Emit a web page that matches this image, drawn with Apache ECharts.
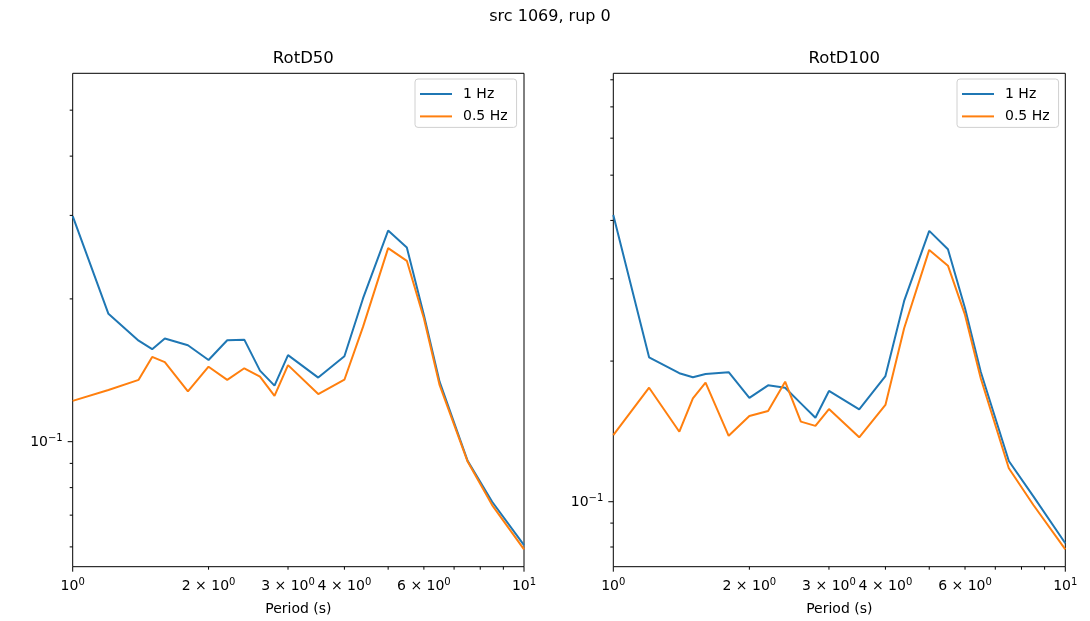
<!DOCTYPE html>
<html><head><meta charset="utf-8">
<script src="https://cdn.jsdelivr.net/npm/echarts@6/dist/echarts.min.js"></script>
<style>html,body{margin:0;padding:0;background:#fff}#c{width:1090px;height:621px}</style>
</head><body><div id="c"></div>
<script>
// ---- data ----
const periods = [1, 1.2, 1.4, 1.5, 1.6, 1.8, 2, 2.2, 2.4, 2.6, 2.8, 3, 3.5, 4, 4.4, 5, 5.5, 6, 6.5, 7.5, 8.5, 10];
const rotd50_1hz  = [0.299, 0.186, 0.1633, 0.1567, 0.165, 0.1597, 0.1487, 0.1636, 0.1641, 0.1412, 0.1313, 0.1522, 0.1365, 0.1514, 0.2007, 0.2787, 0.2567, 0.185, 0.1338, 0.0911, 0.0747, 0.0605];
const rotd50_05hz = [0.1219, 0.1285, 0.135, 0.1509, 0.1471, 0.1277, 0.1439, 0.135, 0.1428, 0.1371, 0.1249, 0.145, 0.126, 0.1351, 0.1748, 0.2559, 0.2406, 0.182, 0.1317, 0.0908, 0.0735, 0.0593];
const rotd100_1hz  = [0.411, 0.2038, 0.1884, 0.1847, 0.1877, 0.1893, 0.1668, 0.1775, 0.1754, 0.1624, 0.1513, 0.1726, 0.1577, 0.1858, 0.269, 0.38, 0.3471, 0.2595, 0.1898, 0.1222, 0.1027, 0.0815];
const rotd100_05hz = [0.1389, 0.1754, 0.1412, 0.1665, 0.1798, 0.1384, 0.1526, 0.1564, 0.1807, 0.1484, 0.1453, 0.1579, 0.1374, 0.1611, 0.2351, 0.3459, 0.3201, 0.2511, 0.1838, 0.1179, 0.0984, 0.0791];
const seriesNames = ['1 Hz', '0.5 Hz'];
const panelTitles = ['RotD50', 'RotD100'];
const suptitle = 'src 1069, rup 0';
const xLabel = 'Period (s)';
const xLimits = [1, 10];
const yLimits50 = [0.0545, 0.598];
const yLimits100 = [0.0726, 0.826];
// tick values and labels (base text, superscript)
const xMajorTicks = [1, 10];
const xMajorLabels = [['10', '0'], ['10', '1']];
const xMinorTicks = [2, 3, 4, 5, 6, 7, 8, 9];
const xMinorLabels = [['2 × 10', '0'], ['3 × 10', '0'], ['4 × 10', '0'], null, ['6 × 10', '0'], null, null, null];
const yMajorTicks = [0.1];
const yMajorLabels = [['10', '−1']];
const yMinorTicks = [0.06, 0.07, 0.08, 0.09, 0.2, 0.3, 0.4, 0.5, 0.6, 0.7, 0.8, 0.9];

// ---- chart ----
const FONT = 'DejaVu Sans';
const C1 = '#1f77b4', C2 = '#ff7f0e';
const chart = echarts.init(document.getElementById('c'));
const grids = [
  {left: 72.7, top: 73.3, width: 451.3, height: 493.4},
  {left: 613.3, top: 73.3, width: 452, height: 493.4}
];
const yLims = [yLimits50, yLimits100];
function mkLine(name, data, color, idx) {
  return {
    name, type: 'line', xAxisIndex: idx, yAxisIndex: idx,
    data: periods.map((p, i) => [p, data[i]]),
    symbol: 'none', lineStyle: {width: 2, color}, itemStyle: {color},
    emphasis: {disabled: true}, z: 3
  };
}
function mkLegend(left) {
  return {
    left, top: 79, orient: 'vertical', icon: 'rect', itemWidth: 32, itemHeight: 2, itemGap: 8.4,
    padding: [8, 9, 4, 5], borderColor: '#d0d0d0', borderWidth: 1, borderRadius: 3,
    backgroundColor: 'rgba(255,255,255,0.8)', selectedMode: false,
    textStyle: {fontSize: 14, lineHeight: 14, fontFamily: FONT, color: '#000', padding: [0, 0, 0, 6]},
    data: seriesNames
  };
}
const option = {
  animation: false,
  backgroundColor: '#fff',
  title: [
    {text: suptitle, left: 545, top: 4, textAlign: 'center', textStyle: {fontSize: 16, fontWeight: 'normal', fontFamily: FONT, color: '#000'}},
    {text: panelTitles[0], left: grids[0].left + grids[0].width / 2, top: 45.5, textAlign: 'center', textStyle: {fontSize: 16.5, fontWeight: 'normal', fontFamily: FONT, color: '#000'}},
    {text: panelTitles[1], left: grids[1].left + grids[1].width / 2, top: 45.5, textAlign: 'center', textStyle: {fontSize: 16.5, fontWeight: 'normal', fontFamily: FONT, color: '#000'}}
  ],
  legend: [mkLegend(415), mkLegend(957)],
  grid: grids.map(g => Object.assign({show: true, borderColor: '#000', borderWidth: 1, containLabel: false}, g)),
  xAxis: [0, 1].map(i => ({
    type: 'log', gridIndex: i, min: xLimits[0], max: xLimits[1], logBase: 10,
    axisLine: {show: false}, axisTick: {show: false}, axisLabel: {show: false}, splitLine: {show: false}
  })),
  yAxis: [0, 1].map(i => ({
    type: 'log', gridIndex: i, min: yLims[i][0], max: yLims[i][1], logBase: 10,
    axisLine: {show: false}, axisTick: {show: false}, axisLabel: {show: false}, splitLine: {show: false}
  })),
  series: [
    mkLine(seriesNames[0], rotd50_1hz, C1, 0),
    mkLine(seriesNames[1], rotd50_05hz, C2, 0),
    mkLine(seriesNames[0], rotd100_1hz, C1, 1),
    mkLine(seriesNames[1], rotd100_05hz, C2, 1)
  ]
};
chart.setOption(option);

// ---- ticks & labels drawn from the axes' own scales ----
function richLabel(lbl, x, y, align, vAlign) {
  return {
    type: 'text', x, y, silent: true, z: 10,
    style: {
      text: '{b|' + lbl[0] + '}{s|' + lbl[1] + '}',
      align, verticalAlign: vAlign,
      rich: {
        b: {fontSize: 14, fontFamily: FONT, fill: '#000', lineHeight: 18},
        s: {fontSize: 10, fontFamily: FONT, fill: '#000', lineHeight: 10, verticalAlign: 'top'}
      }
    }
  };
}
const gfx = [];
[0, 1].forEach(i => {
  const g = grids[i];
  const bottom = g.top + g.height, left = g.left;
  const xPix = v => chart.convertToPixel({xAxisIndex: i}, v);
  const yPix = v => chart.convertToPixel({yAxisIndex: i}, v);
  const tick = (x1, y1, x2, y2) => gfx.push({type: 'line', silent: true, z: 10, shape: {x1, y1, x2, y2}, style: {stroke: '#000', lineWidth: 1}});
  xMajorTicks.forEach((v, k) => {
    const x = xPix(v);
    tick(x, bottom, x, bottom + 5);
    gfx.push(richLabel(xMajorLabels[k], x, bottom + 11, 'center', 'top'));
  });
  xMinorTicks.forEach((v, k) => {
    const x = xPix(v);
    tick(x, bottom, x, bottom + 3);
    if (xMinorLabels[k]) gfx.push(richLabel(xMinorLabels[k], x, bottom + 11, 'center', 'top'));
  });
  const [ymin, ymax] = yLims[i];
  yMajorTicks.forEach((v, k) => {
    if (v < ymin || v > ymax) return;
    const y = yPix(v);
    tick(left, y, left - 5, y);
    gfx.push(richLabel(yMajorLabels[k], left - 10, y + 1, 'right', 'middle'));
  });
  yMinorTicks.forEach(v => {
    if (v < ymin || v > ymax) return;
    const y = yPix(v);
    tick(left, y, left - 3, y);
  });
  gfx.push({type: 'text', silent: true, x: left + g.width / 2, y: 609.5, style: {text: xLabel, align: 'center', verticalAlign: 'middle', fontSize: 14, fontFamily: FONT, fill: '#000'}});
});
chart.setOption({graphic: gfx});
</script>
</body></html>
